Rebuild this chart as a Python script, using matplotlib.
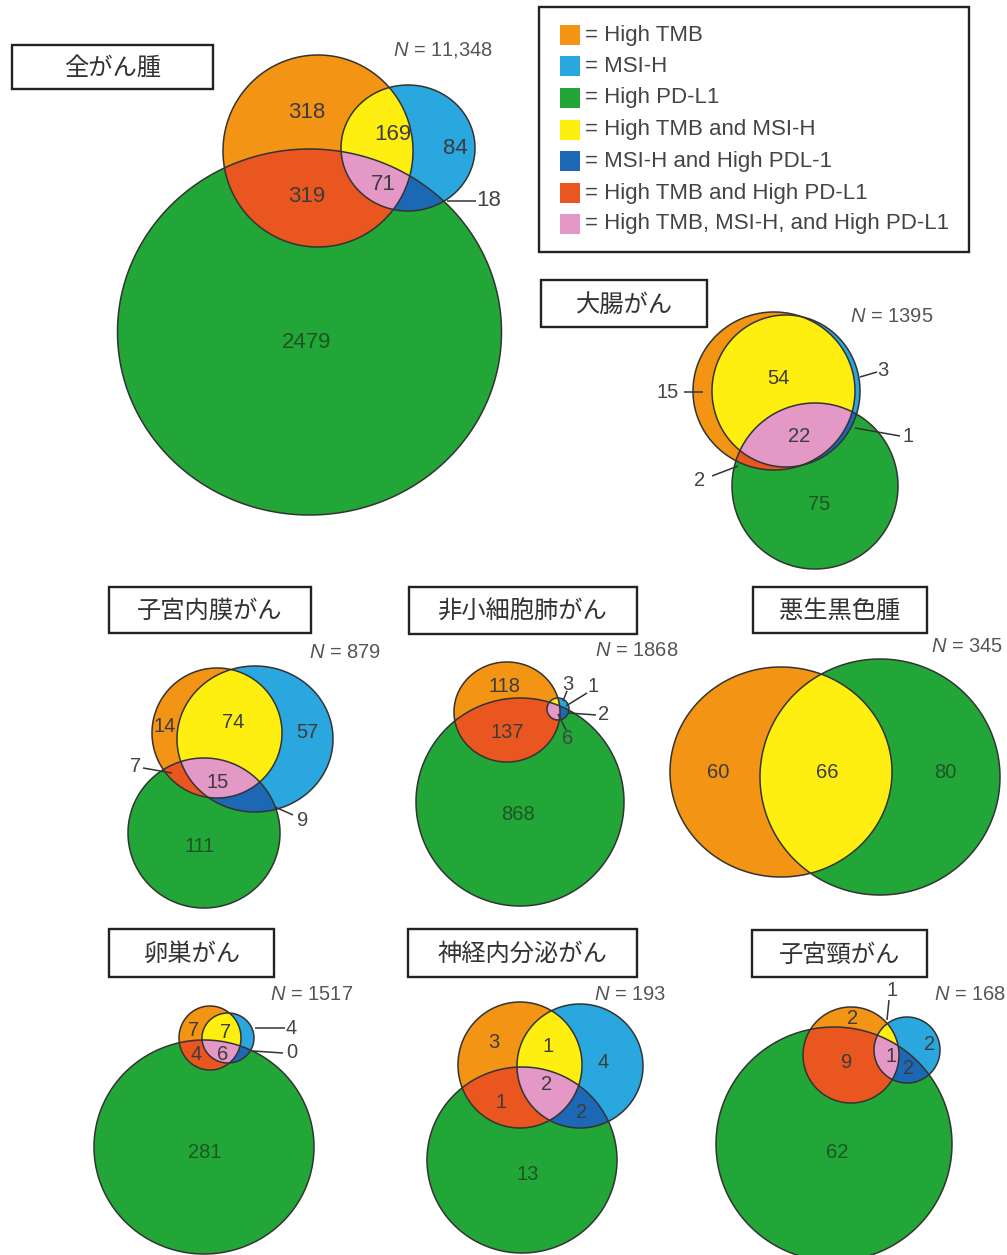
import numpy as np
import matplotlib
matplotlib.use("Agg")
import matplotlib.pyplot as plt
from matplotlib.patches import Polygon, Rectangle

plt.rcParams['font.family'] = ['Liberation Sans', 'Noto Sans CJK JP', 'DejaVu Sans']
plt.rcParams['mathtext.fontset'] = 'custom'
plt.rcParams['mathtext.it'] = 'Liberation Sans:italic'
plt.rcParams['mathtext.rm'] = 'Liberation Sans'

# ---------------- data ----------------
panels = ["全がん腫", "大腸がん", "子宮内膜がん", "非小細胞肺がん",
          "悪生黒色腫", "卵巣がん", "神経内分泌がん", "子宮頸がん"]
n_labels = ["11,348", "1395", "879", "1868", "345", "1517", "193", "168"]
tmb_only  = [318, 15, 14, 118, 60, 7, 3, 2]
msi_only  = [84, 3, 57, 1, None, 4, 4, 2]
pdl1_only = [2479, 75, 111, 868, 80, 281, 13, 62]
tmb_msi   = [169, 54, 74, 3, None, 7, 1, 1]
msi_pdl1  = [18, 1, 9, 2, None, 0, 2, 2]
tmb_pdl1  = [319, 2, 7, 137, 66, 4, 1, 9]
all_three = [71, 22, 15, 6, None, 6, 2, 1]

legend_labels = ["= High TMB", "= MSI-H", "= High PD-L1", "= High TMB and MSI-H",
                 "= MSI-H and High PDL-1", "= High TMB and High PD-L1",
                 "= High TMB, MSI-H, and High PD-L1"]

# ---------------- styles ----------------
C_TMB = '#F39414'
C_MSI = '#2AA7DF'
C_PDL1 = '#22A637'
C_TMB_MSI = '#FFEF10'
C_MSI_PDL1 = '#1C68B4'
C_TMB_PDL1 = '#E9561F'
C_ALL = '#E398C6'
legend_colors = [C_TMB, C_MSI, C_PDL1, C_TMB_MSI, C_MSI_PDL1, C_TMB_PDL1, C_ALL]
EDGE = '#333333'
TXT = '#3c3c3c'
TXT_G = '#1d5524'

# ---------------- layout (pixel coordinates) ----------------
layout = [
    dict(orange=(318, 151, 95, 96), blue=(408, 148, 67, 63), green=(309.5, 332, 192, 183),
         box=(12, 45, 213, 89), n=(443, 50), fs=16,
         labels=dict(tmb=(307, 112), tmb_msi=(393, 135), msi=(455, 148), tmb_pdl1=(307, 197),
                     all=(383, 185), pdl1=(307, 342),
                     msi_pdl1=(489, 201, (447, 201, 476, 201)))),
    dict(orange=(774, 391, 81, 79), blue=(786, 391, 74, 76), green=(815, 486, 83, 83),
         box=(541, 280, 707, 327), n=(892, 317), fs=14.5,
         labels=dict(tmb=(668, 392, (684, 392, 703, 392)), tmb_msi=(778, 378),
                     msi=(883, 370, (860, 377, 877, 372)), all=(799, 437),
                     msi_pdl1=(908, 436, (855, 428, 900, 436)),
                     tmb_pdl1=(700, 481, (712, 476, 738, 466)), pdl1=(819, 505))),
    dict(orange=(217, 733, 65, 65), blue=(255, 739, 78, 73), green=(204, 833, 76, 75),
         box=(109, 587, 311, 633), n=(345, 652), fs=14.5,
         labels=dict(tmb=(165, 727), tmb_msi=(233, 723), msi=(307, 733), all=(218, 782),
                     pdl1=(200, 847), tmb_pdl1=(136, 767, (143, 768, 172, 773)),
                     msi_pdl1=(303, 820, (275, 807, 293, 815)))),
    dict(orange=(507, 712, 53, 50), blue=(558, 709, 11, 11), green=(520, 802, 104, 104),
         box=(409, 587, 637, 634), n=(637, 650), fs=14.5,
         labels=dict(tmb=(505, 687), tmb_pdl1=(507, 733), pdl1=(518, 815),
                     tmb_msi=(568, 684, (563, 701, 567, 691)),
                     msi=(593, 686, (566, 706, 587, 693)),
                     msi_pdl1=(604, 715, (569, 713, 596, 715)),
                     all=(568, 738, (558, 714, 566, 730)))),
    dict(orange=(781, 772, 111, 105), blue=None, green=(880, 777, 120, 118),
         box=(753, 587, 927, 633), n=(967, 647), fs=14.5, pair_color=C_TMB_MSI,
         labels=dict(tmb=(718, 773), tmb_pdl1=(827, 773), pdl1=(945, 773))),
    dict(orange=(210, 1038, 31, 32), blue=(228, 1038, 26, 25), green=(204, 1147, 110, 107),
         box=(109, 929, 274, 977), n=(312, 995), fs=14.5,
         labels=dict(tmb=(194, 1030), tmb_msi=(226, 1032), tmb_pdl1=(196, 1055), all=(223, 1055),
                     pdl1=(205, 1153), msi=(291, 1028, (255, 1028, 285, 1028)),
                     msi_pdl1=(292, 1053, (253, 1051, 283, 1053)))),
    dict(orange=(520, 1065, 62, 63), blue=(580, 1066, 63, 62), green=(522, 1160, 95, 93),
         box=(408, 929, 637, 977), n=(630, 995), fs=14.5,
         labels=dict(tmb=(494, 1043), tmb_msi=(548, 1047), msi=(603, 1062), tmb_pdl1=(501, 1102),
                     all=(547, 1085), msi_pdl1=(582, 1112), pdl1=(528, 1175))),
    dict(orange=(851, 1055, 48, 48), blue=(907, 1050, 33, 33), green=(834, 1144, 118, 117),
         box=(752, 930, 927, 977), n=(970, 994), fs=14.5,
         labels=dict(tmb=(853, 1018), tmb_msi=(892, 991, (889, 1000, 887, 1020)), msi=(930, 1045),
                     tmb_pdl1=(847, 1063), all=(891, 1057), msi_pdl1=(909, 1068), pdl1=(837, 1153))),
]


def ellipse_poly(e, n=360):
    cx, cy, rx, ry = e
    t = np.linspace(0, 2 * np.pi, n, endpoint=False)
    return np.column_stack([cx + rx * np.cos(t), cy + ry * np.sin(t)])


def clip_poly(P, clipper):
    n = len(clipper)
    for i in range(n):
        if len(P) == 0:
            return P
        a = clipper[i]
        b = clipper[(i + 1) % n]
        d = b - a
        val = d[0] * (P[:, 1] - a[1]) - d[1] * (P[:, 0] - a[0])
        ins = val >= 0
        if ins.all():
            continue
        if not ins.any():
            return np.zeros((0, 2))
        Q = np.roll(P, 1, axis=0)
        vq = np.roll(val, 1)
        iq = np.roll(ins, 1)
        out = []
        for k in range(len(P)):
            if ins[k]:
                if not iq[k]:
                    t = vq[k] / (vq[k] - val[k])
                    out.append(Q[k] + t * (P[k] - Q[k]))
                out.append(P[k])
            elif iq[k]:
                t = vq[k] / (vq[k] - val[k])
                out.append(Q[k] + t * (P[k] - Q[k]))
        P = np.array(out)
    return P


W, H = 1007, 1255
fig = plt.figure(figsize=(W / 100, H / 100), dpi=100)
ax = fig.add_axes([0, 0, 1, 1])
ax.set_xlim(0, W)
ax.set_ylim(H, 0)
ax.axis('off')


def fill(poly, color, z):
    if len(poly) >= 3:
        ax.add_patch(Polygon(poly, closed=True, facecolor=color, edgecolor='none', zorder=z))


for i, L in enumerate(layout):
    og = ellipse_poly(L['orange'])
    gr = ellipse_poly(L['green'])
    bl = ellipse_poly(L['blue']) if L['blue'] is not None else None
    fill(gr, C_PDL1, 1)
    fill(og, C_TMB, 1)
    if bl is not None:
        fill(bl, C_MSI, 1)
    fill(clip_poly(og, gr), L.get('pair_color', C_TMB_PDL1), 2)
    if bl is not None:
        ob = clip_poly(og, bl)
        fill(ob, C_TMB_MSI, 2)
        fill(clip_poly(bl, gr), C_MSI_PDL1, 2)
        fill(clip_poly(ob, gr), C_ALL, 3)
    for p in [gr, og] + ([bl] if bl is not None else []):
        ax.add_patch(Polygon(p, closed=True, facecolor='none', edgecolor=EDGE, lw=1.1, zorder=4))

    values = dict(tmb=tmb_only[i], msi=msi_only[i], pdl1=pdl1_only[i], tmb_msi=tmb_msi[i],
                  msi_pdl1=msi_pdl1[i], tmb_pdl1=tmb_pdl1[i], all=all_three[i])
    for key, pos in L['labels'].items():
        v = values[key]
        if v is None:
            continue
        col = TXT_G if (key == 'pdl1' and len(pos) == 2) else TXT
        if len(pos) == 3:
            x1, y1, x2, y2 = pos[2]
            ax.plot([x1, x2], [y1, y2], color='#333333', lw=1.1, zorder=5, solid_capstyle='butt')
            col = '#444444'
        ax.text(pos[0], pos[1], str(v), ha='center', va='center', fontsize=L['fs'],
                color=col, zorder=6)

    x0, y0, x1, y1 = L['box']
    ax.add_patch(Rectangle((x0, y0), x1 - x0, y1 - y0, facecolor='white', edgecolor='#222222',
                           lw=1.7, zorder=6))
    ax.text((x0 + x1) / 2, (y0 + y1) / 2 + 1, panels[i], ha='center', va='center', fontsize=17.5,
            color='#333333', family=['Noto Sans CJK JP', 'DejaVu Sans'], zorder=7)
    ax.text(L['n'][0], L['n'][1], r"$\mathit{N}$ = " + n_labels[i], ha='center', va='center',
            fontsize=14.5, color='#555555', zorder=7)

# legend
ax.add_patch(Rectangle((539, 7), 430, 245, facecolor='white', edgecolor='#222222', lw=1.7, zorder=6))
rows_y = [35, 66, 98, 130, 161, 193, 224]
for c, lab, yc in zip(legend_colors, legend_labels, rows_y):
    ax.add_patch(Rectangle((560, yc - 10), 20, 20, facecolor=c, edgecolor='none', zorder=7))
    ax.text(585, yc, lab, ha='left', va='center', fontsize=16, color='#444444', zorder=7)

fig.savefig('out.png', dpi=100)
